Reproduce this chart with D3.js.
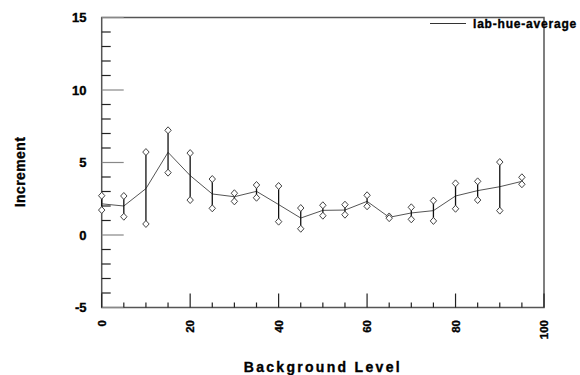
<!DOCTYPE html>
<html>
<head>
<meta charset="utf-8">
<script src="https://cdn.jsdelivr.net/npm/d3@7"></script>
<style>
  body { margin: 0; background: #fff; }
  svg { display: block; }
  text { font-family: "Liberation Sans", Arial, sans-serif; font-weight: bold; fill: #000; stroke: #000; stroke-width: 0.35; }
</style>
</head>
<body>
<svg id="chart" width="580" height="375"></svg>
<script>
const levels   = [0, 5, 10, 15, 20, 25, 30, 35, 40, 45, 50, 55, 60, 65, 70, 75, 80, 85, 90, 95];
const meanVals = [2.15, 2.0, 3.2, 5.7, 4.1, 2.83, 2.64, 3.01, 2.1, 1.17, 1.7, 1.72, 2.32, 1.22, 1.52, 1.68, 2.69, 3.06, 3.33, 3.7];
const upperVals = [2.71, 2.69, 5.72, 7.22, 5.65, 3.86, 2.88, 3.45, 3.38, 1.86, 2.05, 2.09, 2.74, 1.28, 1.91, 2.37, 3.56, 3.70, 5.03, 3.98];
const lowerVals = [1.72, 1.26, 0.76, 4.30, 2.41, 1.84, 2.32, 2.57, 0.92, 0.43, 1.33, 1.40, 1.98, 1.16, 1.08, 0.97, 1.81, 2.41, 1.68, 3.50];
const yTickLabels = [-5, 0, 5, 10, 15];
const xTickLabels = [0, 20, 40, 60, 80, 100];
const seriesName = "lab-hue-average";

const svg = d3.select("#chart");
const L = 101.7, R = 544, T = 17.5, B = 307.5;
const x = d3.scaleLinear().domain([0, 100]).range([L, R]);
const y = d3.scaleLinear().domain([-5, 15]).range([B, T]);

const axisColor = "#555";

// frame
svg.append("path")
  .attr("d", `M${L},${T}H${R}V${B}H${L}Z`)
  .attr("fill", "none").attr("stroke", axisColor).attr("stroke-width", 1.5);

// y ticks (inward)
const yMinor = d3.range(-5, 15.01, 1);
svg.append("g").selectAll("line").data(yMinor).join("line")
  .attr("x1", L).attr("x2", d => L + (d % 5 === 0 ? 22 : 9))
  .attr("y1", d => y(d)).attr("y2", d => y(d))
  .attr("stroke", (d) => d % 5 === 0 ? "#888" : "#222").attr("stroke-width", 1.2);

// y tick labels
svg.append("g").selectAll("text").data(yTickLabels).join("text")
  .attr("x", 86.5).attr("y", d => y(d)).attr("dy", "0.36em")
  .attr("text-anchor", "end").attr("font-size", 13)
  .text(d => d);

// x ticks (inward)
const xMinor = d3.range(0, 100.01, 5);
svg.append("g").selectAll("line").data(xMinor).join("line")
  .attr("x1", d => x(d)).attr("x2", d => x(d))
  .attr("y1", B).attr("y2", d => B - (d % 20 === 0 ? 14 : 5))
  .attr("stroke", "#222").attr("stroke-width", 1.2);

// x tick labels rotated
svg.append("g").selectAll("text").data(xTickLabels).join("text")
  .attr("transform", d => `translate(${x(d)},320) rotate(-90)`)
  .attr("text-anchor", "end").attr("dy", "0.36em").attr("font-size", 11.5)
  .text(d => d);

// axis titles
svg.append("text")
  .attr("x", x(50)).attr("y", 372)
  .attr("text-anchor", "middle").attr("font-size", 14).attr("letter-spacing", 2.3)
  .text("Background Level");
svg.append("text")
  .attr("transform", `translate(25,172) rotate(-90)`)
  .attr("text-anchor", "middle").attr("font-size", 14).attr("letter-spacing", 0.4)
  .text("Increment");

// mean line
const line = d3.line().x((d, i) => x(levels[i])).y(d => y(d));
svg.append("path").datum(meanVals)
  .attr("d", line).attr("fill", "none").attr("stroke", "#555").attr("stroke-width", 1);

// error bars
svg.append("g").selectAll("line").data(levels).join("line")
  .attr("x1", d => x(d)).attr("x2", d => x(d))
  .attr("y1", (d, i) => y(upperVals[i])).attr("y2", (d, i) => y(lowerVals[i]))
  .attr("stroke", "#111").attr("stroke-width", 1.3);

// diamonds
const diamond = (cx, cy) => `M${cx},${cy - 3.5}L${cx + 3.2},${cy}L${cx},${cy + 3.5}L${cx - 3.2},${cy}Z`;
const ends = [];
levels.forEach((lv, i) => { ends.push([lv, upperVals[i]]); ends.push([lv, lowerVals[i]]); });
svg.append("g").selectAll("path").data(ends).join("path")
  .attr("d", d => diamond(x(d[0]), y(d[1])))
  .attr("fill", "#fff").attr("stroke", "#444").attr("stroke-width", 1);

// legend
svg.append("line").attr("x1", 430).attr("x2", 466).attr("y1", 23.5).attr("y2", 23.5)
  .attr("stroke", "#333").attr("stroke-width", 1);
svg.append("text").attr("x", 473).attr("y", 27.5).attr("font-size", 12).attr("letter-spacing", 0.8)
  .text(seriesName);
</script>
</body>
</html>
